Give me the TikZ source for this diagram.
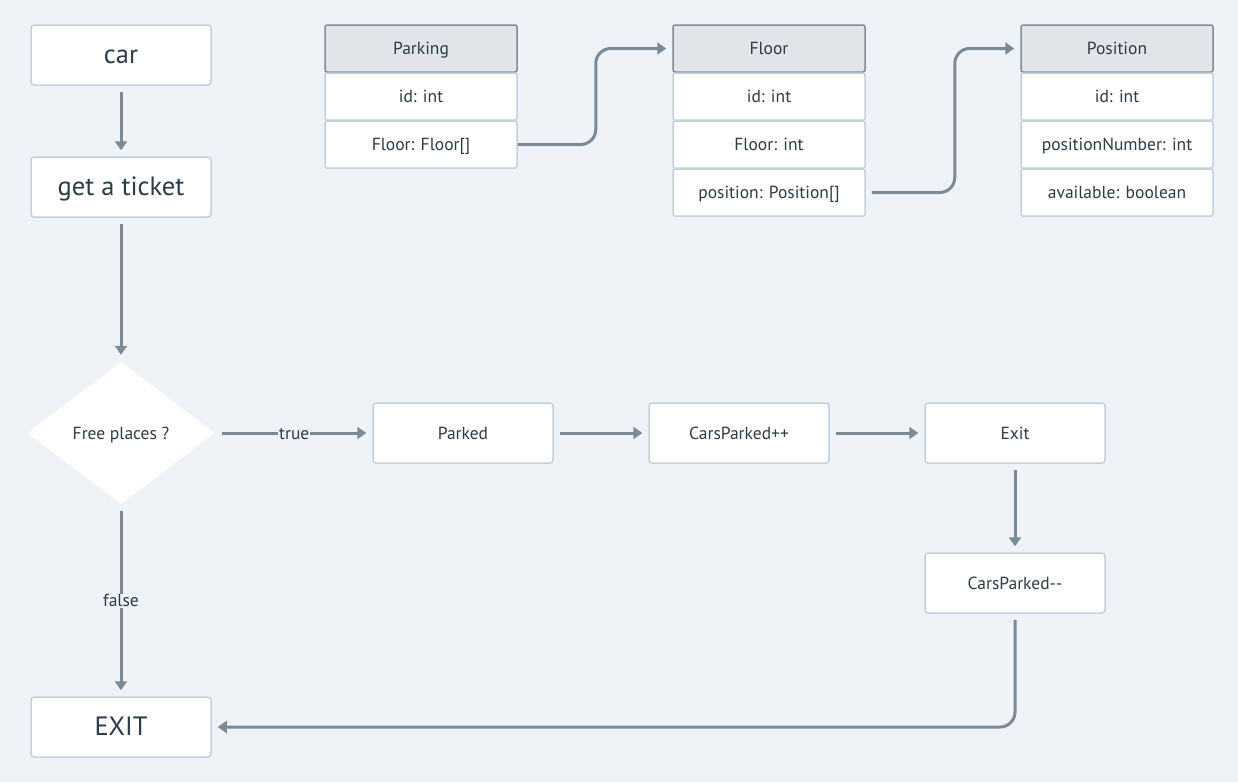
\documentclass[tikz,border=0pt]{standalone}
\usepackage{fontspec}
\setmainfont{PT Sans}
\usetikzlibrary{arrows.meta,shapes.geometric}
\definecolor{bg}{HTML}{EFF3F7}
\definecolor{ln}{HTML}{7B8A99}
\definecolor{tx}{HTML}{2D3A48}
\definecolor{bd}{HTML}{C5D0DC}
\definecolor{hd}{HTML}{E1E5EA}
\definecolor{hdb}{HTML}{7F8C99}
\tikzset{
  txt/.style={text=tx, text height=12pt, text depth=0pt},
  box/.style={txt, draw=bd, line width=1.5pt, fill=white, rounded corners=3pt, minimum width=180pt, minimum height=60pt, inner sep=0pt, font=\fontsize{17.5}{20}\selectfont},
  bigbox/.style={box, text height=16pt, font=\fontsize{26.5}{30}\selectfont},
  row/.style={txt, draw=bd, line width=1.5pt, fill=white, rounded corners=2pt, minimum width=192pt, minimum height=47pt, inner sep=0pt, font=\fontsize{17.5}{20}\selectfont},
  head/.style={row, draw=hdb, fill=hd},
  conn/.style={draw=ln, line width=3pt, -{Triangle[width=12pt,length=9pt]}, shorten >=6pt, shorten <=6pt},
  lbl/.style={txt, fill=bg, inner sep=1pt, font=\fontsize{17.5}{20}\selectfont},
  dia/.style={txt, diamond, draw=white!92!black, line width=0.5pt, fill=white, aspect=1.319, minimum width=190pt, minimum height=144pt, inner sep=0pt, font=\fontsize{17.5}{20}\selectfont}
}
\begin{document}
\begin{tikzpicture}[x=1pt,y=-1pt]
\fill[bg] (0,0) rectangle (1238,782);
\useasboundingbox (0,0) rectangle (1238,782);
% flow
\node[bigbox] (car) at (121,55) {car};
\node[bigbox] (ticket) at (121,187) {get a ticket};
\node[dia] (free) at (121,433) {Free places ?};
\node[bigbox] (exitbig) at (121,727) {EXIT};
\node[box] (parked) at (463,433) {Parked};
\node[box] (inc) at (739,433) {CarsParked++};
\node[box] (exit) at (1015,433) {Exit};
\node[box] (dec) at (1015,583) {CarsParked-{}-};
% tables
\node[head] (p0) at (421,48.5) {Parking};
\node[row] (p1) at (421,96.5) {id: int};
\node[row] (p2) at (421,144.5) {Floor: Floor[]};
\node[head] (f0) at (769,48.5) {Floor};
\node[row] (f1) at (769,96.5) {id: int};
\node[row] (f2) at (769,144.5) {Floor: int};
\node[row] (f3) at (769,192.5) {position: Position[]};
\node[head] (q0) at (1117,48.5) {Position};
\node[row] (q1) at (1117,96.5) {id: int};
\node[row] (q2) at (1117,144.5) {positionNumber: int};
\node[row] (q3) at (1117,192.5) {available: boolean};
% connectors
\draw[conn] (car) -- (ticket);
\draw[conn] (ticket) -- (free);
\draw[conn] (free) -- node[lbl] {true} (parked);
\draw[conn] (free) -- node[lbl] {false} (exitbig);
\draw[conn] (parked) -- (inc);
\draw[conn] (inc) -- (exit);
\draw[conn] (exit) -- (dec);
\draw[conn, rounded corners=15pt] (dec.south) -- (dec.south |- exitbig.east) -- (exitbig.east);
\draw[conn, rounded corners=15pt, shorten <=0pt] (p2.east) -- ++(78,0) |- (f0.west);
\draw[conn, rounded corners=15pt] (f3.east) -- ++(89,0) |- (q0.west);
\end{tikzpicture}
\end{document}
